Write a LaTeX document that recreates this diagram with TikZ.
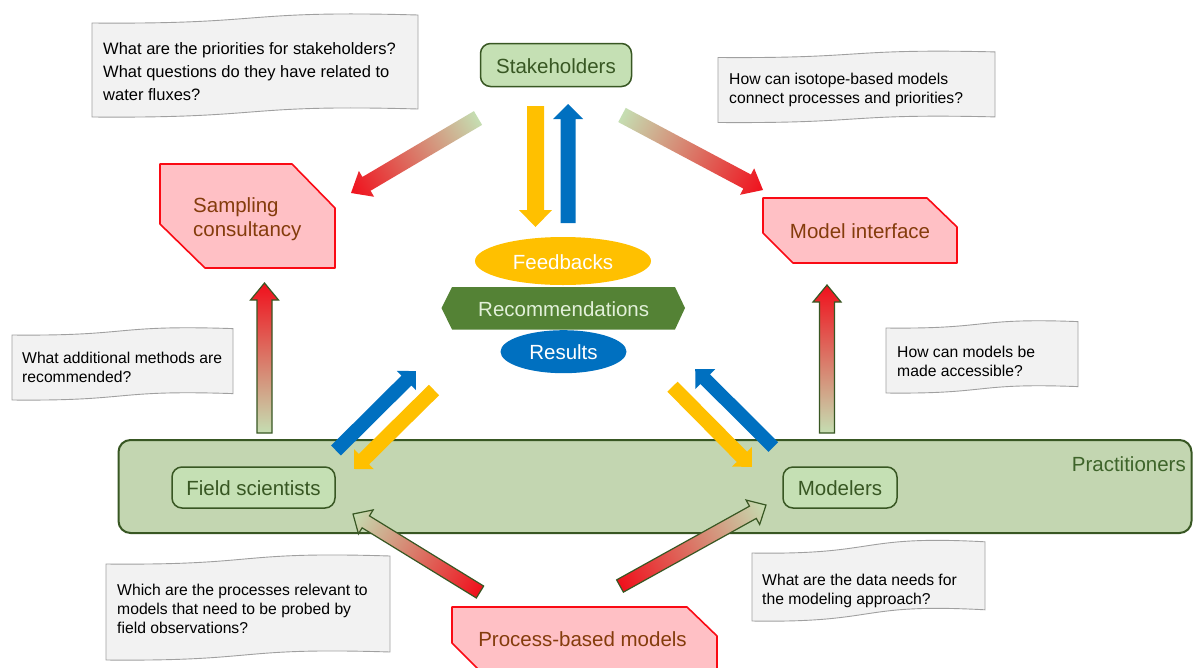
\documentclass[tikz,border=0pt]{standalone}
\usepackage{fontspec}
\setmainfont{Liberation Sans}
\usetikzlibrary{shapes.geometric}
\definecolor{lgreen}{RGB}{197,224,180}
\definecolor{bandgreen}{RGB}{195,214,177}
\definecolor{dgreen}{RGB}{56,87,35}
\definecolor{ptext}{RGB}{62,100,42}
\definecolor{pinkfill}{RGB}{255,192,197}
\definecolor{snipred}{RGB}{250,10,20}
\definecolor{browntext}{RGB}{132,60,12}
\definecolor{gold}{RGB}{255,192,0}
\definecolor{myblue}{RGB}{0,112,192}
\definecolor{recgreen}{RGB}{84,130,53}
\definecolor{rectext}{RGB}{226,240,217}
\definecolor{callfill}{RGB}{242,242,242}
\definecolor{callline}{RGB}{160,160,160}
\definecolor{gstart}{RGB}{197,222,178}
\definecolor{gmid}{RGB}{224,212,170}
\definecolor{gend}{RGB}{240,16,28}
\makeatletter
\newdimen\ba@x \newdimen\ba@y
% #1 style, #2 from, #3 to, #4 shaft half width, #5 head half width, #6 head length
\newcommand\blockarrow[6][]{%
  \pgfpointdiff{\pgfpointanchor{#2}{center}}{\pgfpointanchor{#3}{center}}%
  \global\ba@x=\pgf@x \global\ba@y=\pgf@y
  \pgfmathsetmacro\ba@ang{atan2(\ba@y,\ba@x)}%
  \pgfmathsetmacro\ba@len{veclen(\ba@x,\ba@y)}%
  \pgfmathsetmacro\ba@base{\ba@len-#6}%
  \begin{scope}[transform canvas={shift={(#2)},rotate=\ba@ang}]
    \path[#1] (0pt,-#4pt) -- (\ba@base pt,-#4pt) -- (\ba@base pt,-#5pt)
      -- (\ba@len pt,0pt) -- (\ba@base pt,#5pt) -- (\ba@base pt,#4pt)
      -- (0pt,#4pt) -- cycle;
  \end{scope}}
\makeatother
% wave-shaped callout: #1 x0, #2 x1, #3 top mid, #4 bottom mid, #5 amplitude
\newcommand\wavecallout[5]{%
  \draw[calloutshape] (#1,{#3+#5}) .. controls ({#1+0.55*(#2-#1)},{#3+1.3*#5}) and ({#1+0.45*(#2-#1)},{#3-1.6*#5}) .. (#2,{#3-0.6*#5})
    -- (#2,{#4-0.6*#5}) .. controls ({#1+0.45*(#2-#1)},{#4-1.6*#5}) and ({#1+0.55*(#2-#1)},{#4+1.3*#5}) .. (#1,{#4+#5}) -- cycle;}
\begin{document}
\begin{tikzpicture}[x=1pt,y=-1pt,
  lbl/.style={font=\fontsize{20.5}{24.5}\selectfont},
  gbox/.style={draw=dgreen, line width=1.5pt, fill=lgreen, rounded corners=10pt,
    text=dgreen, lbl, text height=16pt, text depth=0pt, inner sep=0pt},
  snip/.style={draw=snipred, line width=1.6pt, fill=pinkfill, line join=round},
  sniptext/.style={lbl, text=browntext, inner sep=0pt},
  calloutshape/.style={draw=callline, line width=0.9pt, fill=callfill},
  calltext/.style={font=\fontsize{15.7}{19}\selectfont, align=left, anchor=north west, inner sep=0pt},
  blob/.style={ellipse, lbl, text=white, text height=16pt, text depth=0pt, inner sep=0pt},
  gradA/.style={left color=gstart, middle color=gmid, right color=gend},
  gradB/.style={left color=gend, middle color=gmid, right color=gstart},
  outl/.style={draw=dgreen, line width=1.2pt, line join=miter}
]
\useasboundingbox (0,0) rectangle (1193,667);
\fill[white] (0,0) rectangle (1193,667);

% callouts
\wavecallout{92}{418}{18}{112}{5}
\node[calltext, font=\fontsize{16.5}{23}\selectfont] (q1) at (103,42)
  {What are the priorities for stakeholders?\\What questions do they have related to\\water fluxes?};
\wavecallout{718}{995}{54}{119}{3.5}
\node[calltext] (q2) at (729,73) {How can isotope-based models\\connect processes and priorities?};
\wavecallout{12}{233}{331}{396}{4}
\node[calltext] (q3) at (22,352) {What additional methods are\\recommended?};
\wavecallout{886}{1078}{324}{389}{4}
\node[calltext] (q4) at (897,345.5) {How can models be\\made accessible?};
\wavecallout{106}{390}{559}{655}{5}
\node[calltext] (q5) at (117,584) {Which are the processes relevant to\\models that need to be probed by\\field observations?};
\wavecallout{752}{985}{546}{614}{7}
\node[calltext] (q6) at (762,574) {What are the data needs for\\the modeling approach?};

% practitioners band
\node[draw=dgreen, line width=2pt, fill=bandgreen, rounded corners=12pt,
  minimum width=1073pt, minimum height=93pt, inner sep=0pt] (pract) at (655,486.5) {};
\node[lbl, text=ptext, anchor=base east, inner sep=0pt] (practlabel) at (1186,471.7) {Practitioners};

% green boxes
\node[gbox, minimum width=151pt, minimum height=43pt] (stake) at (556,65) {Stakeholders};
\node[gbox, minimum width=163pt, minimum height=41pt] (field) at (253.5,487.5) {Field scientists};
\node[gbox, minimum width=114pt, minimum height=41pt] (modelers) at (840,487.5) {Modelers};

% snipped boxes
\draw[snip] (160,164) -- (292,164) -- (335,208) -- (335,268) -- (205,268) -- (160,224) -- cycle;
\node[sniptext, align=left, anchor=north west] (sampling) at (193,197) {Sampling\\consultancy};
\draw[snip] (763,198) -- (927,198) -- (957,227) -- (957,263) -- (793,263) -- (763,233) -- cycle;
\node[sniptext, anchor=base] (interface) at (860,238.3) {Model interface};
\draw[snip] (452,607) -- (687,607) -- (717,636) -- (717,690) -- (499,690) -- (452,643) -- cycle;
\node[sniptext, anchor=base] (process) at (582.5,646.7) {Process-based models};

% central stack
\node[blob, fill=gold, minimum width=176pt, minimum height=48pt] (feed) at (563,261) {Feedbacks};
\fill[recgreen] (441.5,308) -- (452,287) -- (675,287) -- (685,308) -- (675,329.5) -- (452,329.5) -- cycle;
\node[lbl, text=rectext, anchor=base, inner sep=0pt] (recom) at (563.7,316) {Recommendations};
\node[blob, fill=myblue, minimum width=126pt, minimum height=43pt] (results) at (563.5,351.7) {Results};

% arrow end points
\coordinate (yd1) at (535.5,106);  \coordinate (yd2) at (535.5,227);
\coordinate (bu1) at (568,223);    \coordinate (bu2) at (568,104);
\coordinate (lb1) at (336,450.5);  \coordinate (lb2) at (416,371);
\coordinate (ly1) at (434,390);    \coordinate (ly2) at (354,469);
\coordinate (ry1) at (672.5,386.7);\coordinate (ry2) at (752,467);
\coordinate (rb1) at (773.3,447);  \coordinate (rb2) at (695,369);
\coordinate (vl1) at (264.5,433);  \coordinate (vl2) at (264.5,283);
\coordinate (vr1) at (827,433);    \coordinate (vr2) at (827,285);
\coordinate (tl1) at (478,118);    \coordinate (tl2) at (351,193);
\coordinate (tr1) at (622,115);    \coordinate (tr2) at (763,190);
\coordinate (bl1) at (480,592);    \coordinate (bl2) at (353,514);
\coordinate (br1) at (620,586);    \coordinate (br2) at (766,505);

% solid arrows
\blockarrow[fill=gold]{yd1}{yd2}{8.5}{16.5}{17}
\blockarrow[fill=myblue]{bu1}{bu2}{7.5}{15}{15}
\blockarrow[fill=myblue]{lb1}{lb2}{7}{13.5}{13.5}
\blockarrow[fill=gold]{ly1}{ly2}{7.3}{14}{14}
\blockarrow[fill=gold]{ry1}{ry2}{7.2}{14}{14}
\blockarrow[fill=myblue]{rb1}{rb2}{6.8}{14}{14}

% gradient arrows
\blockarrow[gradA, outl]{vl1}{vl2}{7.5}{14}{17}
\blockarrow[gradA, outl]{vr1}{vr2}{7.5}{14}{17}
\blockarrow[gradA]{tl1}{tl2}{8}{15}{18}
\blockarrow[gradA]{tr1}{tr2}{8}{15}{18}
\blockarrow[gradB, outl]{bl1}{bl2}{7}{14}{15}
\blockarrow[gradB, outl]{br1}{br2}{7}{14}{15}
\end{tikzpicture}
\end{document}
